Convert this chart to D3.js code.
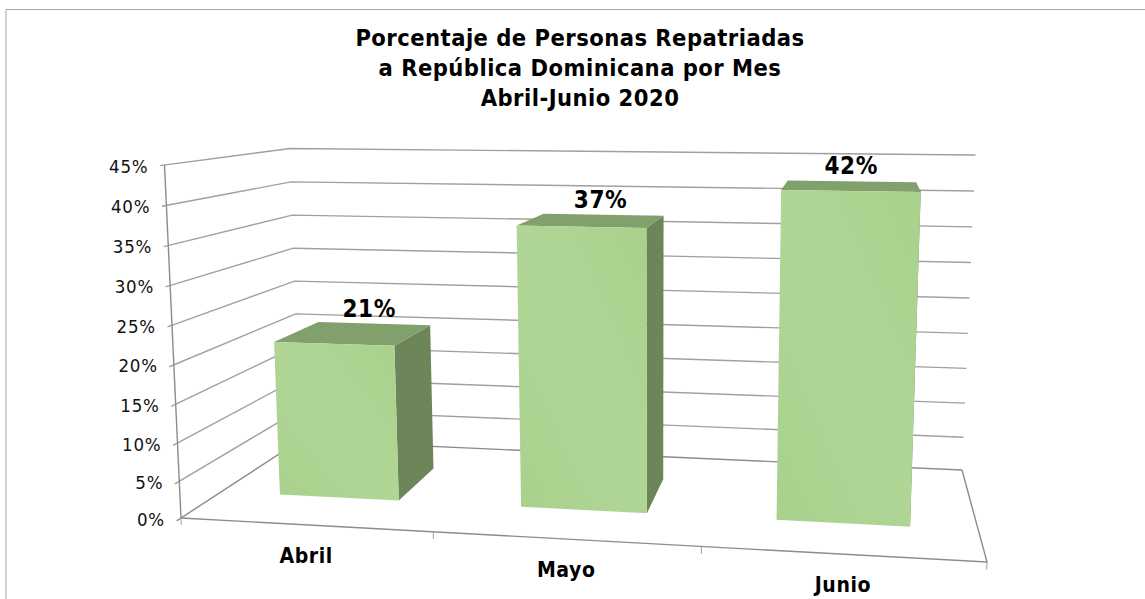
<!DOCTYPE html><html><head><meta charset="utf-8"><script src="https://cdn.jsdelivr.net/npm/d3@7"></script>
<style>html,body{margin:0;background:#fff}svg{display:block}text{font-family:"DejaVu Sans",sans-serif;font-stretch:condensed}</style></head><body><svg id="c" width="1145" height="599"></svg><script>
const titleLines=["Porcentaje de Personas Repatriadas","a República Dominicana por Mes","Abril-Junio 2020"];
const categories=["Abril","Mayo","Junio"];
const values=[21,37,42];
const yTicks=[0,5,10,15,20,25,30,35,40,45];
const floorCorners=[[181,518],[987,562],[962,470],[300,440.5]];
const ceilCorners=[[164.5,165],[1003,175],[975.5,155],[290,148.5]];
const colors={front:"#a9d18c",frontLight:"#b0d696",top:"#81a06c",side:"#6d8659",grid:"#a0a0a0",floor:"#8c8c8c",frame:"#a6a6a6",text:"#111"};

function H(p){const [[x0,y0],[x1,y1],[x2,y2],[x3,y3]]=p;const dx1=x1-x2,dx2=x3-x2,dx3=x0-x1+x2-x3,dy1=y1-y2,dy2=y3-y2,dy3=y0-y1+y2-y3;const den=dx1*dy2-dx2*dy1;const g=(dx3*dy2-dx2*dy3)/den,h=(dx1*dy3-dx3*dy1)/den;return [x1-x0+g*x1,x3-x0+h*x3,x0,y1-y0+g*y1,y3-y0+h*y3,y0,g,h];}
const apply=(m,u,w)=>{const d=m[6]*u+m[7]*w+1;return [(m[0]*u+m[1]*w+m[2])/d,(m[3]*u+m[4]*w+m[5])/d];};
const floorH=H(floorCorners),ceilH=H(ceilCorners);
const yScale=d3.scalePow().exponent(1.03).domain([0,45]).range([0,1]);
const xBand=d3.scaleBand().domain(categories).range([0,1]).paddingInner(.5).paddingOuter(.25);
const xTick=d3.scaleLinear().domain([0,categories.length]).range([0,1]);
const depth=d3.scaleLinear().domain([0,1]).range([.3,.7]);
function P(u,w,val){const a=apply(floorH,u,w),b=apply(ceilH,u,w),t=yScale(val);return [a[0]+(b[0]-a[0])*t,a[1]+(b[1]-a[1])*t];}

const svg=d3.select("#c");
const grad=svg.append("defs").append("linearGradient").attr("id","fr").attr("x1",0).attr("y1",1).attr("x2",1).attr("y2",0);
[[0,colors.front],[.5,colors.frontLight],[1,colors.front]].forEach(s=>grad.append("stop").attr("offset",s[0]).attr("stop-color",s[1]));
const line=d3.line();
svg.append("path").attr("d",line([[6,599],[6,9.5],[1145,9.5]])).attr("fill","none").attr("stroke",colors.frame).attr("stroke-width",1);
svg.append("g").selectAll("text").data(titleLines).join("text").attr("x",580).attr("y",(d,i)=>46+i*30).attr("text-anchor","middle").attr("font-size",23.5).attr("letter-spacing",.47).attr("font-weight","bold").attr("fill","#000").text(d=>d);
const grid=svg.append("g").attr("fill","none").attr("stroke-width",1.4);
grid.selectAll("path").data(yTicks).join("path").attr("d",v=>line([P(0,-.03,v),P(0,1,v),P(1,1,v)])).attr("stroke",v=>v===0?colors.floor:colors.grid);
const ax=svg.append("g").attr("fill","none").attr("stroke",colors.floor).attr("stroke-width",1.4);
ax.append("path").attr("d",line([P(0,0,45),P(0,0,0)]));
ax.append("path").attr("d",line([P(0,0,0),P(1,0,0),P(1,1,0)]));
ax.selectAll(".xt").data(d3.range(categories.length+1)).join("path").attr("class","xt").attr("stroke",colors.grid).attr("stroke-width",1).attr("d",i=>line([P(xTick(i),0,0),P(xTick(i),0,-1)]));
svg.append("g").selectAll("text").data(yTicks).join("text").attr("x",v=>P(0,0,v)[0]-16).attr("y",v=>P(0,0,v)[1]+7.5).attr("text-anchor","end").attr("font-size",18.5).attr("letter-spacing",.8).attr("fill",colors.text).text(v=>v+"%");
const bars=svg.append("g").selectAll("g").data(categories.map((c,i)=>({c,v:values[i]}))).join("g");
const poly=d=>line(d)+"Z";
const corners=d=>{const u0=xBand(d.c),u1=u0+xBand.bandwidth(),w0=depth(0),w1=depth(1);return {u0,u1,w0,w1};};
bars.append("path").attr("fill",colors.side).attr("d",d=>{const q=corners(d);return poly([P(q.u1,q.w0,0),P(q.u1,q.w1,0),P(q.u1,q.w1,d.v),P(q.u1,q.w0,d.v)]);});
bars.append("path").attr("fill",colors.top).attr("d",d=>{const q=corners(d);return poly([P(q.u0,q.w0,d.v),P(q.u1,q.w0,d.v),P(q.u1,q.w1,d.v),P(q.u0,q.w1,d.v)]);});
bars.append("path").attr("fill","url(#fr)").attr("d",d=>{const q=corners(d);return poly([P(q.u0,q.w0,0),P(q.u1,q.w0,0),P(q.u1,q.w0,d.v),P(q.u0,q.w0,d.v)]);});
bars.append("text").attr("text-anchor","middle").attr("font-size",24).attr("letter-spacing",.6).attr("font-weight","bold").attr("fill","#000")
 .attr("x",d=>{const q=corners(d);return P((q.u0+q.u1)/2,.65,d.v)[0];})
 .attr("y",d=>{const q=corners(d);return P((q.u0+q.u1)/2,.7,d.v)[1]-7;}).text(d=>d.v+"%");
svg.append("g").selectAll("text").data(categories).join("text").attr("text-anchor","middle").attr("font-size",21).attr("letter-spacing",.6).attr("font-weight","bold").attr("fill","#000")
 .attr("x",c=>P(xBand(c)+xBand.bandwidth()/2,0,0)[0]+1).attr("y",c=>P(xBand(c)+xBand.bandwidth()/2,0,0)[1]+38).text(c=>c);
</script></body></html>
